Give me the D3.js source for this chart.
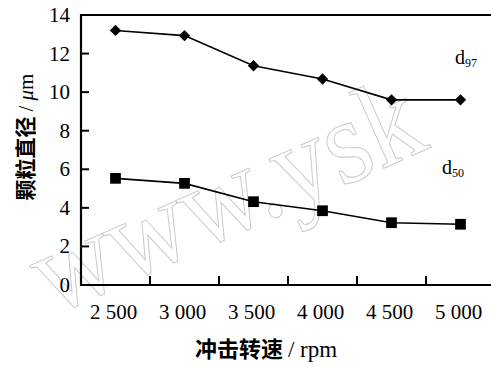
<!DOCTYPE html>
<html><head><meta charset="utf-8">
<script src="https://cdn.jsdelivr.net/npm/d3@7/dist/d3.min.js"></script>
<style>body{margin:0;background:#fff}svg{display:block}</style>
</head><body>
<svg id="c" width="491" height="367"></svg>
<script>
const categories = ["2 500","3 000","3 500","4 000","4 500","5 000"];
const d97 = [13.2, 12.93, 11.37, 10.68, 9.6, 9.6];
const d50 = [5.53, 5.27, 4.32, 3.85, 3.23, 3.15];
const yTicks = [0,2,4,6,8,10,12,14];

const svg = d3.select("#c");
const L = 81, R = 495, T = 15, B = 285;
const x = d3.scaleBand().domain(categories).range([L, R]);
const y = d3.scaleLinear().domain([0,14]).range([B, T]);
const serif = "'Liberation Serif','DejaVu Serif',serif";
const cjk = "'Noto Sans CJK SC','Noto Sans',sans-serif";

// watermark
svg.append("text").attr("transform","translate(52,316) rotate(-24)")
  .attr("font-family",serif).attr("font-size",120).attr("fill","none")
  .attr("stroke","#c8c8c8").attr("stroke-width",1)
  .attr("textLength",415).attr("lengthAdjust","spacingAndGlyphs")
  .text("www.ysk");

// frame lines
svg.append("line").attr("x1",L).attr("x2",491).attr("y1",T).attr("y2",T).attr("stroke","#000").attr("stroke-width",2);
svg.append("line").attr("x1",L).attr("x2",491).attr("y1",B).attr("y2",B).attr("stroke","#000").attr("stroke-width",2.2);
svg.append("line").attr("x1",L).attr("x2",L).attr("y1",T-1).attr("y2",B+1).attr("stroke","#000").attr("stroke-width",2.2);

// y ticks
yTicks.forEach(v=>{
  if(v>0 && v<14) svg.append("line").attr("x1",L).attr("x2",L+8).attr("y1",y(v)).attr("y2",y(v)).attr("stroke","#000").attr("stroke-width",2);
  svg.append("text").attr("x",70).attr("y",y(v)+7).attr("text-anchor","end")
    .attr("font-family",serif).attr("font-size",21).text(v);
});
// x ticks at band boundaries
categories.slice(1).forEach(c=>{
  const xx = x(c);
  svg.append("line").attr("x1",xx).attr("x2",xx).attr("y1",B).attr("y2",B-9).attr("stroke","#000").attr("stroke-width",2);
});
categories.forEach(c=>{
  svg.append("text").attr("x",x(c)+x.bandwidth()/2-2).attr("y",319).attr("text-anchor","middle")
    .attr("font-family",serif).attr("font-size",21).text(c);
});

const cx = c => x(c)+x.bandwidth()/2;
const line = d3.line().x((d,i)=>cx(categories[i])).y(d=>y(d));
svg.append("path").attr("d",line(d97)).attr("fill","none").attr("stroke","#000").attr("stroke-width",1.6);
svg.append("path").attr("d",line(d50)).attr("fill","none").attr("stroke","#000").attr("stroke-width",1.6);

svg.selectAll(".dm").data(d97).join("path")
  .attr("transform",(d,i)=>`translate(${cx(categories[i])},${y(d)}) rotate(45)`)
  .attr("d",d3.symbol().type(d3.symbolSquare).size(64)()).attr("fill","#000");
svg.selectAll(".sq").data(d50).join("path")
  .attr("transform",(d,i)=>`translate(${cx(categories[i])},${y(d)})`)
  .attr("d",d3.symbol().type(d3.symbolSquare).size(115)()).attr("fill","#000");

// series labels
const lab = (tx,ty,sub)=>{
  const t = svg.append("text").attr("x",tx).attr("y",ty).attr("font-family",serif).attr("font-size",20);
  t.append("tspan").text("d");
  t.append("tspan").attr("font-size",12).attr("dy",3).text(sub);
};
lab(455,64,"97");
lab(442,174,"50");

// axis titles
svg.append("text").attr("transform","translate(33,137) rotate(-90)").attr("text-anchor","middle")
  .attr("font-family",cjk).attr("font-size",21).attr("font-weight","600")
  .html('颗粒直径 <tspan font-family="Liberation Serif" font-weight="normal">/ </tspan><tspan font-family="Liberation Serif" font-style="italic" font-weight="normal">μ</tspan><tspan font-family="Liberation Serif" font-weight="normal">m</tspan>');
svg.append("text").attr("x",266).attr("y",357).attr("text-anchor","middle")
  .attr("font-family",cjk).attr("font-size",22).attr("font-weight","600")
  .html('冲击转速 <tspan font-family="Liberation Serif" font-weight="normal" font-size="23">/ rpm</tspan>');
</script>
</body></html>
